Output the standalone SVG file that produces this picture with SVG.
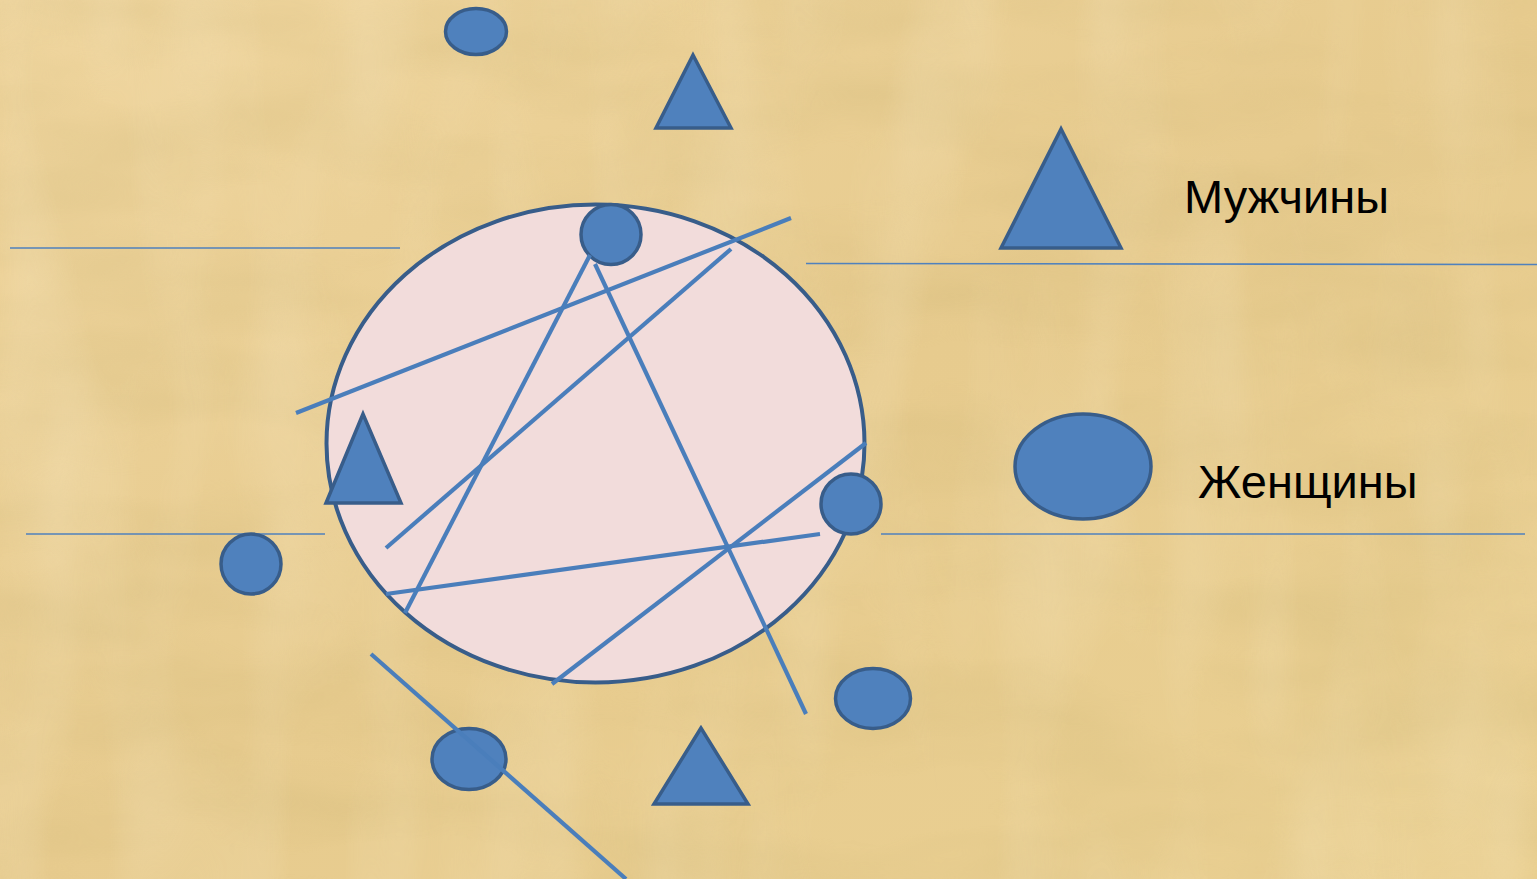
<svg xmlns="http://www.w3.org/2000/svg" width="1537" height="879" viewBox="0 0 1537 879">
  <style>
    .shape { fill: #4f81bd; stroke: #385d8a; stroke-width: 3.5; }
    .big { fill: #f2dcdb; stroke: #385d8a; stroke-width: 4; }
    .thin { stroke: #4f81bd; stroke-width: 1.6; fill: none; }
    .ln { stroke: #4a7ebb; stroke-width: 4.2; fill: none; }
    .lbl { font-family: "Liberation Sans", Arial, sans-serif; font-size: 47px; fill: #000; }
  </style>
  <defs>
    <linearGradient id="bg" x1="0" y1="0" x2="1" y2="1">
      <stop offset="0" stop-color="#efd59e"/>
      <stop offset="0.5" stop-color="#e7cb8e"/>
      <stop offset="1" stop-color="#ead092"/>
    </linearGradient>
    <filter id="tex" x="0" y="0" width="100%" height="100%">
      <feTurbulence type="fractalNoise" baseFrequency="0.004 0.012" numOctaves="3" seed="7" result="n"/>
      <feColorMatrix type="matrix" values="0 0 0 0 0.55  0 0 0 0 0.42  0 0 0 0 0.15  1.2 0 0 0 -0.45"/>
    </filter>
    <filter id="tex2" x="0" y="0" width="100%" height="100%">
      <feTurbulence type="fractalNoise" baseFrequency="0.012 0.003" numOctaves="2" seed="3" result="n"/>
      <feColorMatrix type="matrix" values="0 0 0 0 0.98  0 0 0 0 0.9  0 0 0 0 0.7  1.2 0 0 0 -0.5"/>
    </filter>
  </defs>

  <g id="background">
    <rect x="0" y="0" width="1537" height="879" fill="url(#bg)"/>
    <rect x="0" y="0" width="1537" height="879" filter="url(#tex)" opacity="0.35"/>
    <rect x="0" y="0" width="1537" height="879" filter="url(#tex2)" opacity="0.35"/>
  </g>

  <g id="rules">
    <line class="thin" x1="10" y1="248" x2="400" y2="248"/>
    <line class="thin" x1="806" y1="263.5" x2="1537" y2="264.5"/>
    <line class="thin" x1="26" y1="534" x2="325" y2="534"/>
    <line class="thin" x1="881" y1="534" x2="1525" y2="534"/>
  </g>

  <g id="group-circle">
    <ellipse class="big" cx="595.5" cy="443.5" rx="269" ry="239"/>
  </g>

  <g id="node-top-ellipse"><ellipse class="shape" cx="476" cy="31.5" rx="30.5" ry="23"/></g>
  <g id="node-top-triangle"><polygon class="shape" points="693,55 656,128 731,128"/></g>
  <g id="node-legend-triangle"><polygon class="shape" points="1061,129 1001,248 1121,248"/></g>
  <g id="node-legend-ellipse"><ellipse class="shape" cx="1083" cy="466.5" rx="68" ry="52.5"/></g>
  <g id="node-left-triangle"><polygon class="shape" points="363,414 326,503 401,503"/></g>
  <g id="node-top-circle"><ellipse class="shape" cx="611" cy="234.5" rx="30" ry="30"/></g>
  <g id="node-right-circle"><ellipse class="shape" cx="851" cy="504" rx="30" ry="30"/></g>
  <g id="node-left-circle"><ellipse class="shape" cx="251" cy="564" rx="30" ry="30"/></g>
  <g id="node-bottom-left-ellipse"><ellipse class="shape" cx="469" cy="759" rx="37" ry="30.5"/></g>
  <g id="node-bottom-right-ellipse"><ellipse class="shape" cx="873" cy="698.5" rx="37.5" ry="30"/></g>
  <g id="node-bottom-triangle"><polygon class="shape" points="701,728 654,804 748,804"/></g>

  <g id="connectors">
    <line class="ln" x1="296" y1="413" x2="791" y2="218"/>
    <line class="ln" x1="386" y1="548" x2="731" y2="249"/>
    <line class="ln" x1="590" y1="255" x2="405" y2="613"/>
    <line class="ln" x1="595" y1="264" x2="806" y2="714"/>
    <line class="ln" x1="386" y1="594" x2="820" y2="534"/>
    <line class="ln" x1="866" y1="443" x2="552" y2="684"/>
    <line class="ln" x1="371" y1="654" x2="626" y2="879"/>
  </g>

  <g id="labels">
    <text class="lbl" x="1184" y="213">Мужчины</text>
    <text class="lbl" x="1198" y="498">Женщины</text>
  </g>
</svg>
